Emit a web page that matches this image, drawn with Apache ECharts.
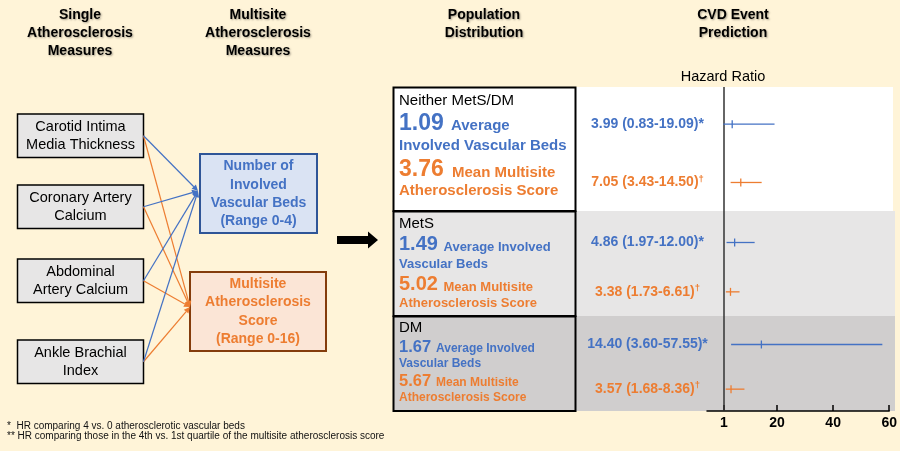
<!DOCTYPE html>
<html><head><meta charset="utf-8">
<script src="https://cdn.jsdelivr.net/npm/echarts@6/dist/echarts.min.js"></script>
<style>html,body{margin:0;padding:0;background:#fff4d8}#c{width:900px;height:451px}</style>
</head><body><div id="c"></div>
<script>
// ---------------- data ----------------
const groups = ['Neither MetS/DM', 'MetS', 'DM'];
const avgBeds = [1.09, 1.49, 1.67];
const meanScore = [3.76, 5.02, 5.67];
const hrBeds = [3.99, 4.86, 14.40];
const hrBedsLo = [0.83, 1.97, 3.60];
const hrBedsHi = [19.09, 12.00, 57.55];
const hrScore = [7.05, 3.38, 3.57];
const hrScoreLo = [3.43, 1.73, 1.68];
const hrScoreHi = [14.50, 6.61, 8.36];
const xTicks = [1, 20, 40, 60];
const singleMeasures = ['Carotid Intima\nMedia Thickness', 'Coronary Artery\nCalcium', 'Abdominal\nArtery Calcium', 'Ankle Brachial\nIndex'];
const footnotes = ['*  HR comparing 4 vs. 0 atherosclerotic vascular beds',
  '** HR comparing those in the 4th vs. 1st quartile of the multisite atherosclerosis score'];

// ---------------- styles / layout ----------------
const BLUE = '#4472c4', ORANGE = '#ed7d31', BG = '#fff4d8';
const FONT = '"Liberation Sans", Arial, sans-serif';
const panelTop = [87, 211, 316], panelBot = [211, 316, 411];
const panelFill = ['#ffffff', '#e7e6e6', '#d0cece'];
const rowFrac = [0.3, 0.77];

const G = [];
function txt(text, x, y, o) {
  o = o || {};
  G.push({type: 'text', x, y, z: 5, style: Object.assign({
    text, fill: '#000', fontFamily: FONT, fontSize: 14, fontWeight: 'normal',
    align: 'left', verticalAlign: 'middle'}, o)});
}
function rect(x, y, w, h, fill, stroke, lw, z) {
  G.push({type: 'rect', z: z == null ? 1 : z, shape: {x, y, width: w, height: h},
    style: {fill, stroke: stroke || null, lineWidth: lw || 0}});
}
function arrow(x1, y1, x2, y2, color) {
  const a = Math.atan2(y2 - y1, x2 - x1), L = 6, W = 3;
  const bx = x2 - L * Math.cos(a), by = y2 - L * Math.sin(a);
  const px = -Math.sin(a) * W, py = Math.cos(a) * W;
  G.push({type: 'line', z: 2, shape: {x1, y1, x2: bx, y2: by}, style: {stroke: color, lineWidth: 1.2}});
  G.push({type: 'polygon', z: 2, shape: {points: [[x2, y2], [bx + px, by + py], [bx - px, by - py]]}, style: {fill: color}});
}
const hdr = {fontWeight: 'bold', fontSize: 14, align: 'center', lineHeight: 18,
  textShadowColor: 'rgba(0,0,0,0.35)', textShadowBlur: 2, textShadowOffsetX: 1, textShadowOffsetY: 1};

// headers
txt('Single\nAtherosclerosis\nMeasures', 80, 33, hdr);
txt('Multisite\nAtherosclerosis\nMeasures', 258, 33, hdr);
txt('Population\nDistribution', 484, 24, hdr);
txt('CVD Event\nPrediction', 733, 24, hdr);
txt('Hazard Ratio', 723, 77, {fontSize: 14.5, align: 'center'});

// left boxes + connectors
const boxY = [114, 185, 259, 340], boxH = 43.5;
const blueTip = [198, 191], orangeTip = [190, 307];
singleMeasures.forEach((m, i) => {
  rect(17.5, boxY[i], 126, boxH, '#e7e6e6', '#000', 1.5);
  txt(m, 80.5, boxY[i] + boxH / 2, {fontSize: 14.5, align: 'center', lineHeight: 17.7});
});
singleMeasures.forEach((m, i) => { arrow(143.5, boxY[i] + boxH / 2, orangeTip[0], orangeTip[1], ORANGE); });
singleMeasures.forEach((m, i) => { arrow(143.5, boxY[i] + boxH / 2, blueTip[0], blueTip[1], BLUE); });

// multisite boxes
rect(200, 154, 117, 79, '#dae3f3', '#2f5597', 2);
txt('Number of\nInvolved\nVascular Beds\n(Range 0-4)', 258.5, 194, {fontSize: 14, fontWeight: 'bold', fill: BLUE, align: 'center', lineHeight: 18.3});
rect(190, 272, 136, 79, '#fbe5d6', '#843c0c', 2);
txt('Multisite\nAtherosclerosis\nScore\n(Range 0-16)', 258, 311.5, {fontSize: 14, fontWeight: 'bold', fill: ORANGE, align: 'center', lineHeight: 18.3});

// big arrow
G.push({type: 'polygon', z: 2, shape: {points: [[337, 236], [368, 236], [368, 231.5], [378, 240], [368, 248.5], [368, 244], [337, 244]]}, style: {fill: '#000'}});

// panels behind forest plot + population boxes
groups.forEach((g, i) => {
  rect(576, panelTop[i], (i === 0 ? 317 : 319), panelBot[i] - panelTop[i], panelFill[i], null, 0, -1);
  rect(393.5, panelTop[i] + 0.5, 182, panelBot[i] - panelTop[i] - 0.5, panelFill[i], '#000', 2, 1);
});

// population text
const popCfg = [
  {title: 101, big: 23, small: 15, n1: 123.3, l1: 126.3, l1x: 451, l2: 146, n2: 170, m2: 172.5, m2x: 452, l4: 191.3, one: 'Average', two: 'Involved Vascular Beds'},
  {title: 223.7, big: 20, small: 13, n1: 244.7, l1: 247, l1x: 443.5, l2: 264.2, n2: 284.5, m2: 287, m2x: 443.5, l4: 303.8, one: 'Average Involved', two: 'Vascular Beds'},
  {title: 327.5, big: 16.5, small: 12, n1: 347.2, l1: 348.5, l1x: 436, l2: 363.3, n2: 381.3, m2: 382.5, m2x: 436, l4: 397.5, one: 'Average Involved', two: 'Vascular Beds'}
];
groups.forEach((g, i) => {
  const c = popCfg[i];
  txt(g, 399, c.title, {fontSize: 15});
  txt(avgBeds[i].toFixed(2), 399, c.n1, {fontSize: c.big, fontWeight: 'bold', fill: BLUE});
  txt(c.one, c.l1x, c.l1, {fontSize: c.small, fontWeight: 'bold', fill: BLUE});
  txt(c.two, 399, c.l2, {fontSize: c.small, fontWeight: 'bold', fill: BLUE});
  txt(meanScore[i].toFixed(2), 399, c.n2, {fontSize: c.big, fontWeight: 'bold', fill: ORANGE});
  txt('Mean Multisite', c.m2x, c.m2, {fontSize: c.small, fontWeight: 'bold', fill: ORANGE});
  txt('Atherosclerosis Score', 399, c.l4, {fontSize: c.small, fontWeight: 'bold', fill: ORANGE});
});

// footnotes
txt(footnotes[0], 7, 426.7, {fontSize: 10, fill: '#111'});
txt(footnotes[1], 7, 436.5, {fontSize: 10, fill: '#111'});

// ---------------- forest data ----------------
const forest = [];
groups.forEach((g, i) => {
  const h = panelBot[i] - panelTop[i];
  forest.push([hrBeds[i], hrBedsLo[i], hrBedsHi[i], panelTop[i] + rowFrac[0] * h, 0]);
  forest.push([hrScore[i], hrScoreLo[i], hrScoreHi[i], panelTop[i] + rowFrac[1] * h, 1]);
});

const chart = echarts.init(document.getElementById('c'), null, {renderer: 'canvas'});
chart.setOption({
  backgroundColor: BG,
  animation: false,
  graphic: G,
  grid: {left: 707, right: 6.5, top: 87, bottom: 40, containLabel: false},
  xAxis: {
    type: 'value', min: -5, max: 60,
    axisLine: {show: true, lineStyle: {color: '#000', width: 1.5}},
    axisTick: {show: true, inside: true, length: 6, customValues: xTicks, lineStyle: {color: '#000', width: 1.5}},
    axisLabel: {customValues: xTicks, color: '#000', fontWeight: 'bold', fontSize: 14, fontFamily: FONT, margin: 5},
    splitLine: {show: false}
  },
  yAxis: {type: 'value', min: 87, max: 411, inverse: true, show: false},
  series: [
    {
      type: 'custom', clip: false, z: 5,
      data: forest,
      renderItem: function (params, api) {
        const est = api.value(0), lo = api.value(1), hi = api.value(2), y = api.value(3), m = api.value(4);
        const pLo = api.coord([lo, y]), pHi = api.coord([hi, y]), pE = api.coord([est, y]);
        const col = m === 0 ? BLUE : ORANGE;
        const label = est.toFixed(2) + ' (' + lo.toFixed(2) + '-' + hi.toFixed(2) + ')' + (m === 0 ? '*' : '{sup|†}');
        return {type: 'group', children: [
          {type: 'line', shape: {x1: pLo[0], y1: pLo[1], x2: pHi[0], y2: pHi[1]}, style: {stroke: col, lineWidth: 1.3}},
          {type: 'line', shape: {x1: pE[0], y1: pE[1] - 4, x2: pE[0], y2: pE[1] + 4}, style: {stroke: col, lineWidth: 1.3}},
          {type: 'text', x: 647.5, y: pE[1], style: {
            text: label, fill: col, fontFamily: FONT, fontSize: 14, fontWeight: 'bold',
            align: 'center', verticalAlign: 'middle',
            rich: {sup: {fontSize: 9.5, fontWeight: 'bold', fill: col, fontFamily: FONT, padding: [0, 0, 7, 0]}}
          }}
        ]};
      }
    },
    {
      type: 'line', data: [], silent: true, z: 4,
      markLine: {silent: true, symbol: 'none', label: {show: false},
        lineStyle: {color: '#333', width: 1.5, type: 'solid'},
        data: [{xAxis: 1}]}
    }
  ]
});
</script></body></html>
